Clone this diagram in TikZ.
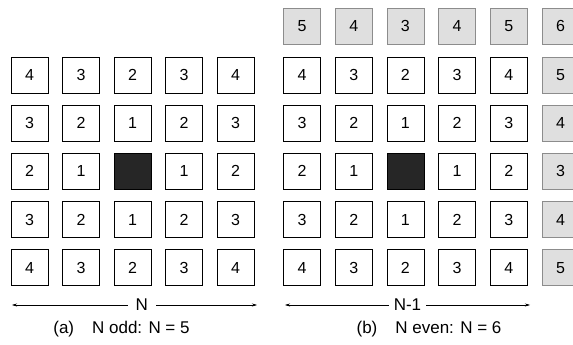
\documentclass[tikz,border=0pt]{standalone}
\usepackage{fontspec}
\setmainfont{Liberation Sans}
\usetikzlibrary{arrows.meta}
\begin{document}
\begin{tikzpicture}[x=1pt,y=1pt,
  cell/.style={draw=black,line width=0.8pt,minimum width=37pt,minimum height=36pt,inner sep=0pt,font=\fontsize{16}{16}\selectfont},
  gcell/.style={cell,draw=gray!90,fill=gray!25},
  dcell/.style={cell,fill=black!85},
  dim/.style={line width=0.5pt,{Stealth[length=5pt,width=3pt]}-{Stealth[length=5pt,width=3pt]}},
  lbl/.style={fill=white,inner xsep=6pt,inner ysep=3pt,font=\fontsize{17}{17}\selectfont},
  captxt/.style={font=\fontsize{17}{17}\selectfont}]
\useasboundingbox (0,0) rectangle (573,345);
% left grid
\foreach \r/\row in {1/{4,3,2,3,4},2/{3,2,1,2,3},3/{2,1,X,1,2},4/{3,2,1,2,3},5/{4,3,2,3,4}}{
  \foreach \v [count=\c] in \row {
    \pgfmathsetmacro{\xx}{29.5+51.5*(\c-1)}
    \pgfmathsetmacro{\yy}{345-75-48.2*(\r-1)}
    \if X\v
      \node[dcell] (a-\r-\c) at (\xx,\yy) {};
    \else
      \node[cell] (a-\r-\c) at (\xx,\yy) {\v};
    \fi
  }
}
% right grid
\foreach \v [count=\c] in {5,4,3,4,5,6}{
  \pgfmathsetmacro{\xx}{302+51.7*(\c-1)}
  \node[gcell] (b-0-\c) at (\xx,345-26) {\v};
}
\foreach \r/\row in {1/{4,3,2,3,4,5},2/{3,2,1,2,3,4},3/{2,1,X,1,2,3},4/{3,2,1,2,3,4},5/{4,3,2,3,4,5}}{
  \foreach \v [count=\c] in \row {
    \pgfmathsetmacro{\xx}{302+51.7*(\c-1)}
    \pgfmathsetmacro{\yy}{345-75-48.2*(\r-1)}
    \ifnum\c=6
      \node[gcell] (b-\r-\c) at (\xx,\yy) {\v};
    \else
    \if X\v
      \node[dcell] (b-\r-\c) at (\xx,\yy) {};
    \else
      \node[cell] (b-\r-\c) at (\xx,\yy) {\v};
    \fi
    \fi
  }
}
% dimension arrows
\coordinate (aL) at (12,40);
\coordinate (aR) at (257,40);
\draw[dim] (aL) -- (aR) node[pos=0.53,lbl,inner xsep=8pt] (aN) {N};
\coordinate (bL) at (285,40);
\coordinate (bR) at (530,40);
\draw[dim] (bL) -- (bR) node[pos=0.5,lbl,inner xsep=5pt] (bN) {N-1};
% captions
\node[captxt] (capa) at (121.5,16) {(a)\hspace{18pt}N odd: N = 5};
\node[captxt] (capb) at (429,16) {(b)\hspace{18pt}N even: N = 6};
\end{tikzpicture}
\end{document}
